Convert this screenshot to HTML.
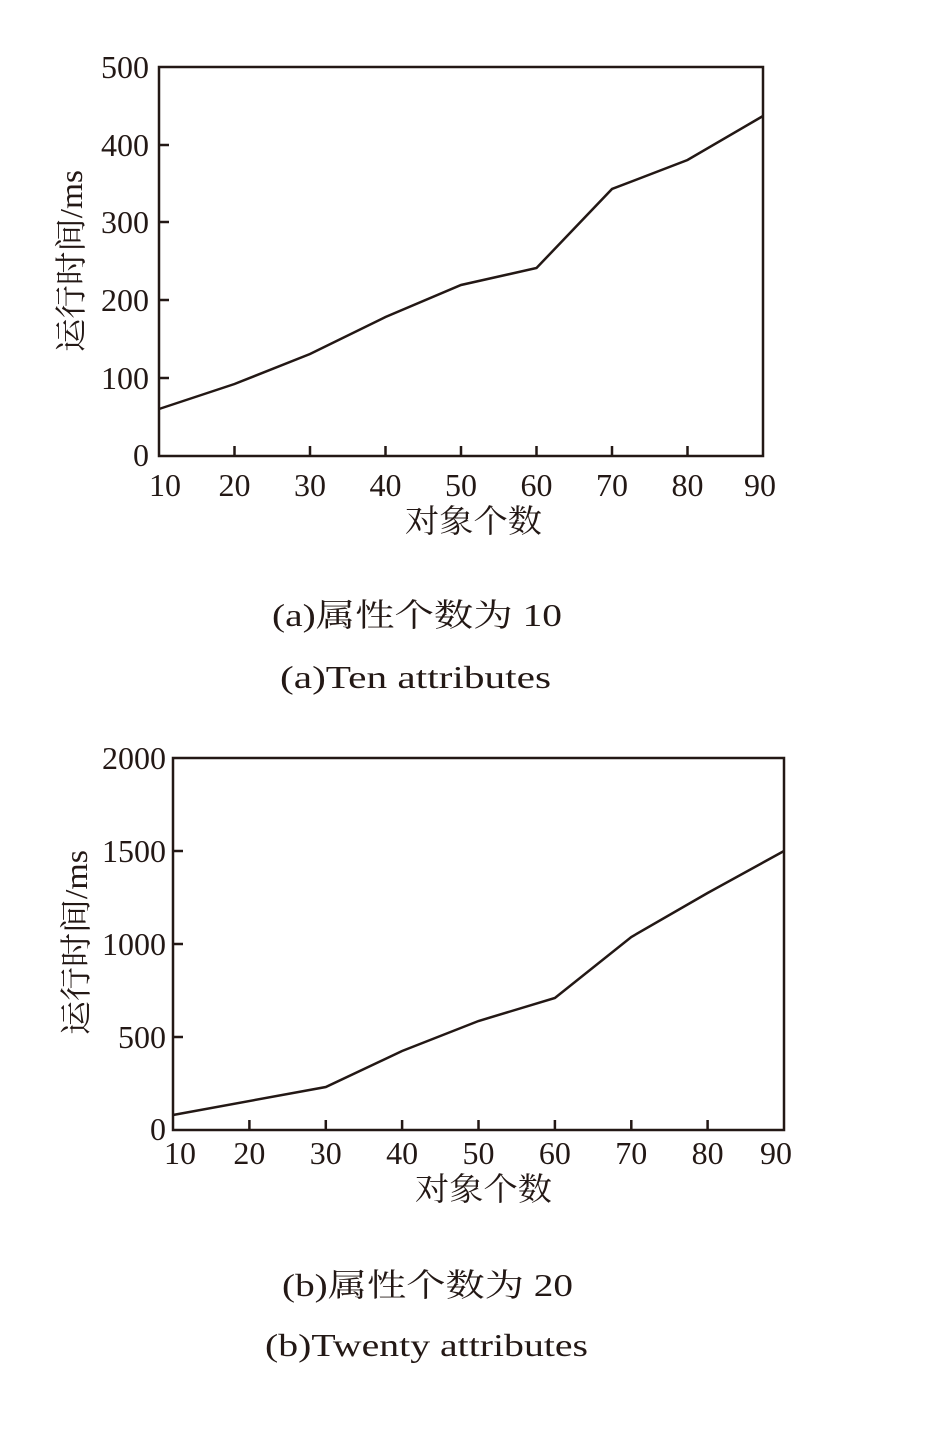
<!DOCTYPE html>
<html><head><meta charset="utf-8"><style>
body{margin:0;background:#fff;width:928px;height:1450px;overflow:hidden}
text{font-family:"Liberation Serif","Noto Serif CJK SC",serif;fill:#231815}
</style></head><body>
<svg width="928" height="1450" viewBox="0 0 928 1450" xmlns="http://www.w3.org/2000/svg">
<g stroke="#231815" stroke-width="2.5" fill="none">
<rect x="159" y="67" width="604" height="389"/>
<path d="M234.5 456v-10M310 456v-10M385.5 456v-10M461 456v-10M536.5 456v-10M612 456v-10M687.5 456v-10M159 378h10M159 300h10M159 222h10M159 145h10"/>
<polyline points="159,409 234.5,384 310,354 385.5,317 461,285 536.5,268 612,189 687.5,160 763,116"/>
<rect x="173" y="758" width="611" height="372"/>
<path d="M249.4 1130v-10M325.8 1130v-10M402.1 1130v-10M478.5 1130v-10M554.9 1130v-10M631.3 1130v-10M707.6 1130v-10M173 1037h10M173 944h10M173 851h10"/>
<polyline points="173,1115 325.8,1087 402.1,1051 478.5,1021 554.9,998 631.3,937 707.6,893 784,851"/>
</g>
<g font-size="32" text-anchor="end">
<text x="149" y="78">500</text><text x="149" y="156">400</text><text x="149" y="233">300</text><text x="149" y="311">200</text><text x="149" y="389">100</text><text x="149" y="466">0</text>
</g>
<g font-size="32" text-anchor="middle">
<text x="165" y="496">10</text><text x="234.5" y="496">20</text><text x="310" y="496">30</text><text x="385.5" y="496">40</text><text x="461" y="496">50</text><text x="536.5" y="496">60</text><text x="612" y="496">70</text><text x="687.5" y="496">80</text><text x="760" y="496">90</text>
</g>
<text x="405" y="532" font-size="32" textLength="137" lengthAdjust="spacingAndGlyphs">对象个数</text>
<text x="272" y="626" font-size="32" textLength="290" lengthAdjust="spacingAndGlyphs">(a)属性个数为 10</text>
<text x="280" y="688" font-size="32" textLength="271" lengthAdjust="spacingAndGlyphs">(a)Ten attributes</text>
<text font-size="32" transform="translate(82,352) rotate(-90)" textLength="182" lengthAdjust="spacingAndGlyphs">运行时间/ms</text>
<g font-size="32" text-anchor="end">
<text x="166" y="769">2000</text><text x="166" y="862">1500</text><text x="166" y="955">1000</text><text x="166" y="1048">500</text><text x="166" y="1140">0</text>
</g>
<g font-size="32" text-anchor="middle">
<text x="180" y="1164">10</text><text x="249.4" y="1164">20</text><text x="325.8" y="1164">30</text><text x="402.1" y="1164">40</text><text x="478.5" y="1164">50</text><text x="554.9" y="1164">60</text><text x="631.3" y="1164">70</text><text x="707.6" y="1164">80</text><text x="776" y="1164">90</text>
</g>
<text x="415" y="1200" font-size="32" textLength="137" lengthAdjust="spacingAndGlyphs">对象个数</text>
<text x="282" y="1296" font-size="32" textLength="291" lengthAdjust="spacingAndGlyphs">(b)属性个数为 20</text>
<text x="265" y="1356" font-size="32" textLength="323" lengthAdjust="spacingAndGlyphs">(b)Twenty attributes</text>
<text font-size="32" transform="translate(87,1035) rotate(-90)" textLength="185" lengthAdjust="spacingAndGlyphs">运行时间/ms</text>
</svg>
</body></html>
